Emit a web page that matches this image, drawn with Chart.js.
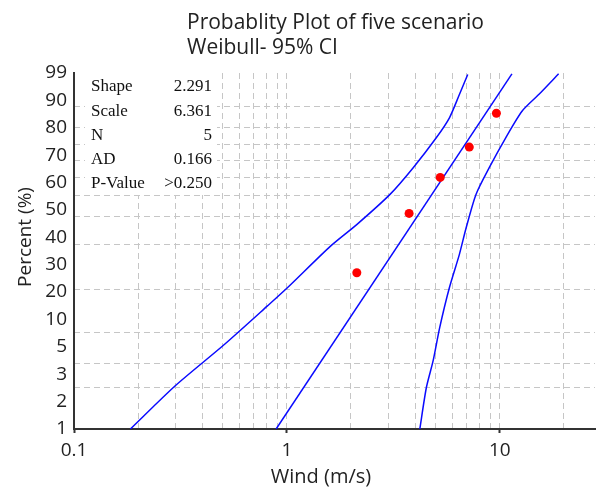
<!DOCTYPE html>
<html>
<head>
<meta charset="utf-8">
<title>Probablity Plot of five scenario</title>
<script src="https://cdn.jsdelivr.net/npm/chart.js@4.4.1/dist/chart.umd.min.js"></script>
<style>
    html, body { margin: 0; padding: 0; background: #fff; }
    #wrap { width: 600px; height: 491px; position: relative; }
</style>
</head>
<body>
<div id="wrap"><canvas id="probChart"></canvas></div>
<script>
// Observed points (wind m/s, percent)
const windObs = [2.13, 3.75, 5.25, 7.19, 9.64];
const pctObs = [13.0, 31.5, 50.0, 68.5, 87.0];

// Fitted Weibull line (straight on this paper)
const fitWind = [0.89, 11.4];
const fitPct = [1, 98.1];

// 95% CI, left band
const lowerWind = [0.184, 0.299, 0.51, 0.813, 1.008, 1.603, 2.135, 3.05, 3.92, 5.03, 5.80, 6.46, 7.07];
const lowerPct = [1, 2.06, 4.1, 7.7, 10.3, 19.6, 27.0, 40.6, 55.8, 74.1, 84.9, 93.9, 98.0];

// 95% CI, right band
const upperWind = [4.21, 4.52, 4.86, 5.22, 5.80, 6.46, 6.95, 7.73, 8.92, 10.66, 12.74, 15.24, 18.89];
const upperPct = [1, 2.0, 3.11, 5.39, 10.3, 17.3, 25.7, 40.6, 55.8, 74.1, 88.0, 93.9, 98.1];

// Axes
const xGridValues = [0.1, 0.2, 0.3, 0.4, 0.5, 0.6, 0.7, 0.8, 0.9, 1, 2, 3, 4, 5, 6, 7, 8, 9, 10, 20];
const xTickLabels = [0.1, 1, 10];
const yGridPercents = [1, 2, 3, 5, 10, 20, 30, 40, 50, 60, 70, 80, 90];
const yTickLabels = ['1', '2', '3', '5', '10', '20', '30', '40', '50', '60', '70', '80', '90', '99'];

// Stats table
const statNames = ['Shape', 'Scale', 'N', 'AD', 'P-Value'];
const statValues = ['2.291', '6.361', '5', '0.166', '>0.250'];

const titleLines = ['Probablity Plot of five scenario', 'Weibull- 95% CI'];

const SANS = '"Open Sans", "Noto Sans", sans-serif';
const GRID = '#c6c6c6';
const INK = '#222';

/**
 * Weibull probability scale: pixel is linear in ln(-ln(1-p))
 */
const weib = p => Math.log(-Math.log(1 - p / 100));

class WeibullScale extends Chart.LinearScale {
    buildTicks() {
        return yGridPercents
            .filter(v => v >= this.min && v <= this.max)
            .map(v => ({ value: v }));
    }
    getPixelForValue(value) {
        const a = weib(this.min);
        const b = weib(this.max);
        return this.getPixelForDecimal((weib(value) - a) / (b - a));
    }
    getValueForPixel(pixel) {
        const a = weib(this.min);
        const b = weib(this.max);
        const t = a + this.getDecimalForPixel(pixel) * (b - a);
        return 100 * (1 - Math.exp(-Math.exp(t)));
    }
}
WeibullScale.id = 'weibull';
WeibullScale.defaults = {};
Chart.register(WeibullScale);

function toPoints(xs, ys) {
    return xs.map((x, i) => ({ x: x, y: ys[i] }));
}

// Titles, stats box
const decorPlugin = {
    id: 'decor',
    beforeDatasetsDraw(chart) {
        const ctx = chart.ctx;
        const area = chart.chartArea;
        ctx.save();
        ctx.fillStyle = '#fff';
        ctx.fillRect(area.left + 11, area.top, 132, 122);
        ctx.fillStyle = '#111';
        ctx.font = '17px "Liberation Serif", "DejaVu Serif", serif';
        ctx.textBaseline = 'middle';
        statNames.forEach((name, i) => {
            const y = area.top + 14 + i * 24.2;
            ctx.textAlign = 'left';
            ctx.fillText(name, area.left + 17, y);
            ctx.textAlign = 'right';
            ctx.fillText(statValues[i], area.left + 138, y);
        });
        ctx.restore();
    },
    afterDraw(chart) {
        const ctx = chart.ctx;
        ctx.save();
        ctx.fillStyle = INK;
        ctx.textBaseline = 'middle';
        ctx.textAlign = 'left';
        ctx.font = '21px ' + SANS;
        ctx.fillText(titleLines[0], 187, 23);
        ctx.fillText(titleLines[1], 187, 48);

        // axis titles
        ctx.textAlign = 'center';
        ctx.font = '20px ' + SANS;
        ctx.fillText('Wind (m/s)', 321, 477);
        ctx.translate(26, 237);
        ctx.rotate(-Math.PI / 2);
        ctx.font = '19px ' + SANS;
        ctx.fillText('Percent (%)', 0, 0);
        ctx.restore();
    }
};

const ctx = document.getElementById('probChart').getContext('2d');
const probChart = new Chart(ctx, {
    type: 'scatter',
    data: {
        datasets: [
            {
                label: 'Observed',
                data: toPoints(windObs, pctObs),
                backgroundColor: '#ff0000',
                borderColor: '#ff0000',
                pointRadius: 4.5,
                pointBorderWidth: 0,
                order: 0
            },
            {
                label: 'Fit',
                data: toPoints(fitWind, fitPct),
                showLine: true,
                borderColor: '#0a0aff',
                borderWidth: 1.5,
                pointRadius: 0,
                order: 1
            },
            {
                label: 'Lower CI',
                data: toPoints(lowerWind, lowerPct),
                showLine: true,
                tension: 0.25,
                borderColor: '#0a0aff',
                borderWidth: 1.5,
                pointRadius: 0,
                order: 1
            },
            {
                label: 'Upper CI',
                data: toPoints(upperWind, upperPct),
                showLine: true,
                tension: 0.25,
                borderColor: '#0a0aff',
                borderWidth: 1.5,
                pointRadius: 0,
                order: 1
            }
        ]
    },
    options: {
        responsive: true,
        maintainAspectRatio: false,
        animation: false,
        layout: {
            padding: { top: 73, right: 5, bottom: 0, left: 0 }
        },
        plugins: {
            legend: { display: false },
            tooltip: { enabled: false }
        },
        scales: {
            x: {
                type: 'logarithmic',
                min: 0.1,
                max: 28,
                afterBuildTicks: scale => {
                    scale.ticks = xGridValues.map(v => ({ value: v }));
                },
                afterFit: scale => { scale.height = 62; },
                grid: {
                    color: GRID,
                    lineWidth: 1,
                    drawTicks: true,
                    tickLength: 4,
                    tickWidth: 2,
                    tickColor: c => (c.tick && xTickLabels.includes(c.tick.value)) ? '#333' : 'rgba(0,0,0,0)'
                },
                border: { display: true, color: '#333', width: 2, dash: [6, 4] },
                ticks: {
                    autoSkip: false,
                    maxRotation: 0,
                    padding: 6,
                    color: INK,
                    font: { family: SANS, size: 19 },
                    callback: value => xTickLabels.includes(value) ? String(value) : ''
                }
            },
            y: {
                type: 'weibull',
                position: 'left',
                min: 1,
                max: 98.2,
                afterFit: scale => { scale.width = 0; },
                grid: { color: GRID, lineWidth: 1, drawTicks: false },
                border: { display: false, dash: [6, 4] },
                ticks: { display: false }
            },
            yLab: {
                type: 'linear',
                position: 'left',
                min: 0,
                max: 13,
                afterFit: scale => { scale.width = 74; },
                grid: { display: false, drawTicks: false },
                border: { display: true, color: '#333', width: 2 },
                ticks: {
                    stepSize: 1,
                    padding: 7,
                    color: INK,
                    font: { family: SANS, size: 19 },
                    callback: value => yTickLabels[value]
                }
            }
        }
    },
    plugins: [decorPlugin]
});
</script>
</body>
</html>
